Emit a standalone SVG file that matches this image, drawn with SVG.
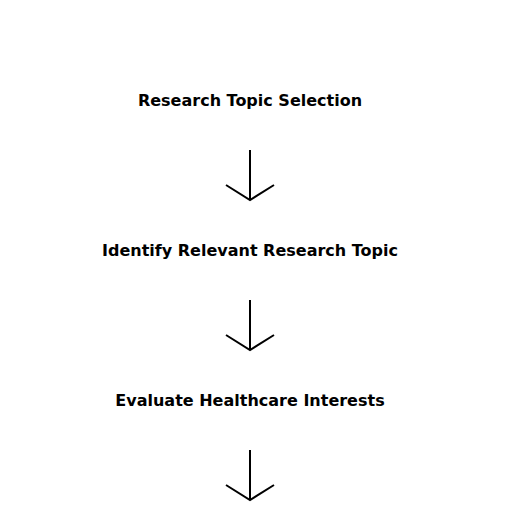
<svg xmlns="http://www.w3.org/2000/svg" width="512" height="512" viewBox="0 0 512 512">
<style>
.t{font-family:"DejaVu Sans",sans-serif;font-weight:bold;font-size:16px;fill:#000;text-anchor:middle}
.c{stroke:#000;stroke-width:2;fill:none}
</style>
<rect width="512" height="512" fill="#fff"/>
<g id="n1"><text class="t" x="250" y="106">Research Topic Selection</text></g>
<g id="n2"><text class="t" x="250" y="256">Identify Relevant Research Topic</text></g>
<g id="n3"><text class="t" x="250" y="406">Evaluate Healthcare Interests</text></g>
<g id="connectors">
<path class="c" d="M250 150V200M226 185L250 200L274 185"/>
<path class="c" d="M250 300V350M226 335L250 350L274 335"/>
<path class="c" d="M250 450V500M226 485L250 500L274 485"/>
</g>
</svg>
